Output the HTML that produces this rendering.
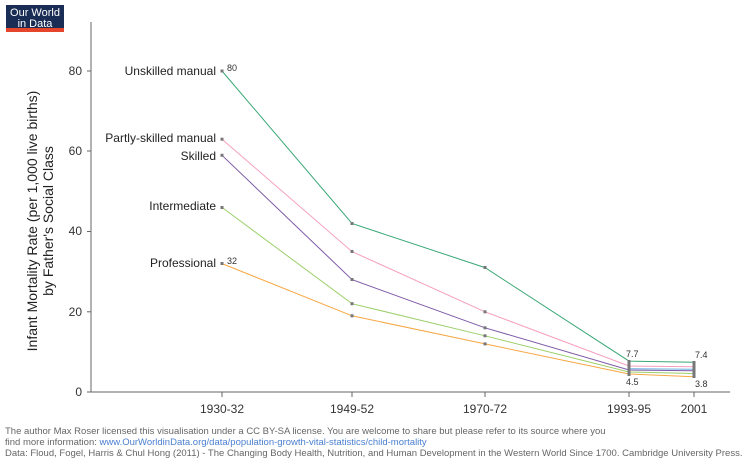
<!DOCTYPE html><html><head><style>body{margin:0;background:#fff;width:750px;height:465px;overflow:hidden;font-family:"Liberation Sans",sans-serif}</style></head><body>
<svg width="750" height="465" xmlns="http://www.w3.org/2000/svg" font-family="Liberation Sans, sans-serif">
<rect x="6" y="5" width="58" height="23" fill="#1a2d54"/><rect x="6" y="28" width="58" height="4" fill="#e5462b"/>
<text x="35" y="16" fill="#fff" font-size="11" text-anchor="middle">Our World</text>
<text x="35" y="27" fill="#fff" font-size="11" text-anchor="middle">in Data</text>
<g stroke="#666" stroke-width="1"><line x1="91" y1="22" x2="91" y2="392"/><line x1="91" y1="392" x2="730" y2="392"/>
<line x1="87" y1="71" x2="91" y2="71"/><line x1="87" y1="151" x2="91" y2="151"/><line x1="87" y1="231.5" x2="91" y2="231.5"/><line x1="87" y1="311.8" x2="91" y2="311.8"/><line x1="87" y1="392" x2="91" y2="392"/>
<line x1="222" y1="392" x2="222" y2="397"/><line x1="352" y1="392" x2="352" y2="397"/><line x1="485" y1="392" x2="485" y2="397"/><line x1="629" y1="392" x2="629" y2="397"/><line x1="694" y1="392" x2="694" y2="397"/></g>
<g font-size="12" fill="#333" text-anchor="end"><text x="82" y="75">80</text><text x="82" y="155">60</text><text x="82" y="235">40</text><text x="82" y="316">20</text><text x="82" y="396">0</text></g>
<g font-size="12" fill="#333" text-anchor="middle"><text x="222" y="413">1930-32</text><text x="352" y="413">1949-52</text><text x="485" y="413">1970-72</text><text x="629" y="413">1993-95</text><text x="694" y="413">2001</text></g>
<text transform="translate(37,221) rotate(-90)" font-size="14" fill="#222" text-anchor="middle">Infant Mortality Rate (per 1,000 live births)</text>
<text transform="translate(53,221) rotate(-90)" font-size="14" fill="#222" text-anchor="middle">by Father's Social Class</text>
<g fill="none" stroke-width="1">
<polyline stroke="#f5a742" points="222,263.6 352,315.8 485,343.9 629,374 694,376.8"/>
<polyline stroke="#9ccf6a" points="222,207.4 352,303.7 485,335.8 629,372 694,373.5"/>
<polyline stroke="#6ab0e0" points="629,368.7 694,369.2"/>
<polyline stroke="#7e5aa8" points="222,155.3 352,279.6 485,327.8 629,370 694,370.7"/>
<polyline stroke="#f59ec0" points="222,139.2 352,251.6 485,311.8 629,366 694,366.7"/>
<polyline stroke="#3aa776" points="222,71 352,223.5 485,267.6 629,361.1 694,362.3"/>
</g>
<g fill="#777"><rect x="220.5" y="69.5" width="3" height="3"/><rect x="350.5" y="222" width="3" height="3"/><rect x="483.5" y="266" width="3" height="3"/>
<rect x="220.5" y="137.7" width="3" height="3"/><rect x="350.5" y="250" width="3" height="3"/><rect x="483.5" y="310.3" width="3" height="3"/>
<rect x="220.5" y="153.8" width="3" height="3"/><rect x="350.5" y="278" width="3" height="3"/><rect x="483.5" y="326.3" width="3" height="3"/>
<rect x="220.5" y="206" width="3" height="3"/><rect x="350.5" y="302.2" width="3" height="3"/><rect x="483.5" y="334.3" width="3" height="3"/>
<rect x="220.5" y="262" width="3" height="3"/><rect x="350.5" y="314.3" width="3" height="3"/><rect x="483.5" y="342.4" width="3" height="3"/>
<rect x="627.5" y="360" width="3" height="16"/><rect x="692.5" y="361" width="3" height="17"/></g>
<g font-size="12" fill="#222" text-anchor="end"><text x="216" y="75">Unskilled manual</text><text x="216" y="142">Partly-skilled manual</text><text x="216" y="160">Skilled</text><text x="216" y="210">Intermediate</text><text x="216" y="267">Professional</text></g>
<g font-size="9" fill="#333"><text x="227" y="71">80</text><text x="227" y="264">32</text><text x="626" y="357">7.7</text><text x="695" y="358">7.4</text><text x="626" y="385">4.5</text><text x="695" y="387">3.8</text></g>
<g font-size="9.5" fill="#666"><text x="5" y="434">The author Max Roser licensed this visualisation under a CC BY-SA license. You are welcome to share but please refer to its source where you</text>
<text x="5" y="445">find more information: <tspan fill="#4a7fd0">www.OurWorldinData.org/data/population-growth-vital-statistics/child-mortality</tspan></text>
<text x="5" y="456">Data: Floud, Fogel, Harris &amp; Chul Hong (2011) - The Changing Body Health, Nutrition, and Human Development in the Western World Since 1700. Cambridge University Press.</text></g>
</svg></body></html>
